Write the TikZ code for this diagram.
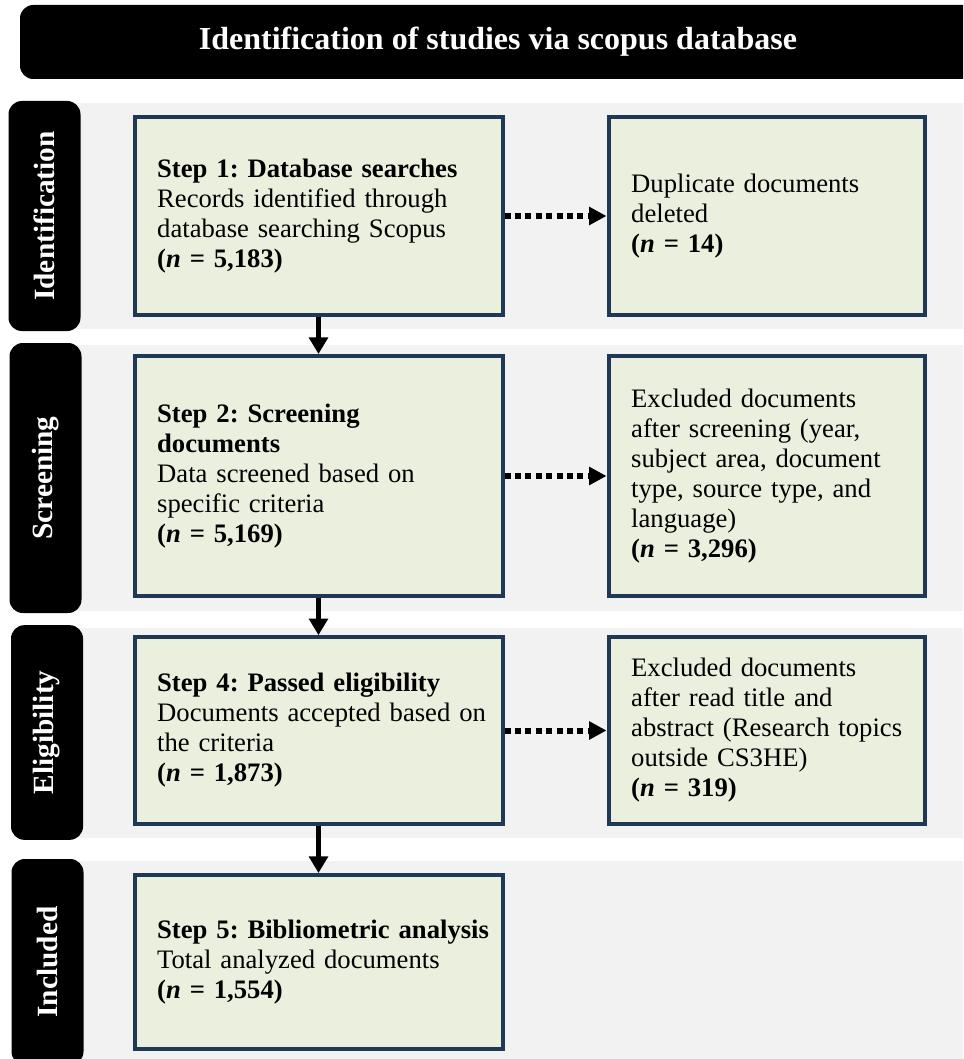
\documentclass[tikz,border=0pt]{standalone}
\usepackage{fontspec}
\setmainfont{Liberation Serif}
\usetikzlibrary{positioning, arrows.meta}
\definecolor{boxfill}{HTML}{EBEFDE}
\definecolor{boxline}{HTML}{1F3856}
\definecolor{bandgray}{HTML}{F2F2F2}
\newcommand{\solidtip}{-{Triangle[length=12.5pt,width=14pt]}}
\newcommand{\dottip}{-{Triangle[length=13pt,width=13pt]}}

\begin{document}
\begin{tikzpicture}[x=0.75pt, y=-0.75pt, node distance=76.5pt,
    every node/.style={font=\fontsize{20}{22.5}\selectfont\frenchspacing},
    stepbox/.style={draw=boxline, fill=boxfill, line width=3pt, align=left, text width=242pt, inner xsep=17pt, inner ysep=0pt},
    exclbox/.style={stepbox, text width=203pt},
    phase/.style={fill=black, text=white, rounded corners=10pt, rotate=90, minimum height=54pt, font=\fontsize{22}{24}\selectfont\bfseries}]
        \useasboundingbox (0,0) rectangle (963,1059);
        \clip (0,0) rectangle (963,1059);
        \fill[bandgray] (60,103) rectangle (963,329);
        \fill[bandgray] (60,345) rectangle (963,611);
        \fill[bandgray] (60,628) rectangle (963,838);
        \fill[bandgray] (60,861) rectangle (963,1059);
        \node[fill=black, text=white, rounded corners=10pt, minimum width=717pt, minimum height=55.5pt, font=\fontsize{24}{26}\selectfont\bfseries] (title) at (498,42) {Identification of studies via scopus database};
        \node[phase, minimum width=172.5pt] (identlabel) at (44.5,216) {Identification};
        \node[phase, minimum width=202.5pt] (screenlabel) at (45.5,478) {Screening};
        \node[phase, minimum width=161pt] (eliglabel) at (47,732.5) {Eligibility};
        \node[phase, minimum width=154.5pt] (inclabel) at (47.5,962) {Included};
        \node[stepbox, minimum height=148.5pt] (searches) at (318.5,216) {\textbf{Step 1: Database searches}\\Records identified through\\\mbox{database searching Scopus}\\\textbf{(\textit{n} = 5,183)}};
        \node[exclbox, minimum height=148.5pt, right=of searches] (duplicates) {Duplicate documents\\deleted\\\textbf{(\textit{n} = 14)}};
        \node[stepbox, minimum height=180pt] (screening) at (318.5,476) {\textbf{Step 2: Screening}\\\textbf{documents}\\Data screened based on\\specific criteria\\\textbf{(\textit{n} = 5,169)}};
        \node[exclbox, minimum height=180pt, right=of screening] (screenout) {Excluded documents\\\mbox{after screening (year,}\\\mbox{subject area, document}\\\mbox{type, source type, and}\\language)\\\textbf{(\textit{n} = 3,296)}};
        \node[stepbox, minimum height=140pt] (eligible) at (318.5,730.5) {\textbf{Step 4: Passed eligibility}\\\mbox{Documents accepted based on}\\the criteria\\\textbf{(\textit{n} = 1,873)}};
        \node[exclbox, minimum height=140pt, right=of eligible] (eligout) {Excluded documents\\after read title and\\\mbox{abstract (Research topics}\\outside CS3HE)\\\textbf{(\textit{n} = 319)}};
        \node[stepbox, minimum height=130.5pt] (analysis) at (318.5,962) {\mbox{\textbf{Step 5: Bibliometric analysis}}\\Total analyzed documents\\\textbf{(\textit{n} = 1,554)}};
        \draw[\solidtip, line width=4pt] (searches) -- (screening);
        \draw[\solidtip, line width=4pt] (screening) -- (eligible);
        \draw[\solidtip, line width=4pt] (eligible) -- (analysis);
        \draw[\dottip, line width=4.5pt, dash pattern=on 4.5pt off 3.3pt] (searches) -- (duplicates);
        \draw[\dottip, line width=4.5pt, dash pattern=on 4.5pt off 3.3pt] (screening) -- (screenout);
        \draw[\dottip, line width=4.5pt, dash pattern=on 4.5pt off 3.3pt] (eligible.east) -- (eligible.east -| eligout.west);
    \end{tikzpicture}
\end{document}
